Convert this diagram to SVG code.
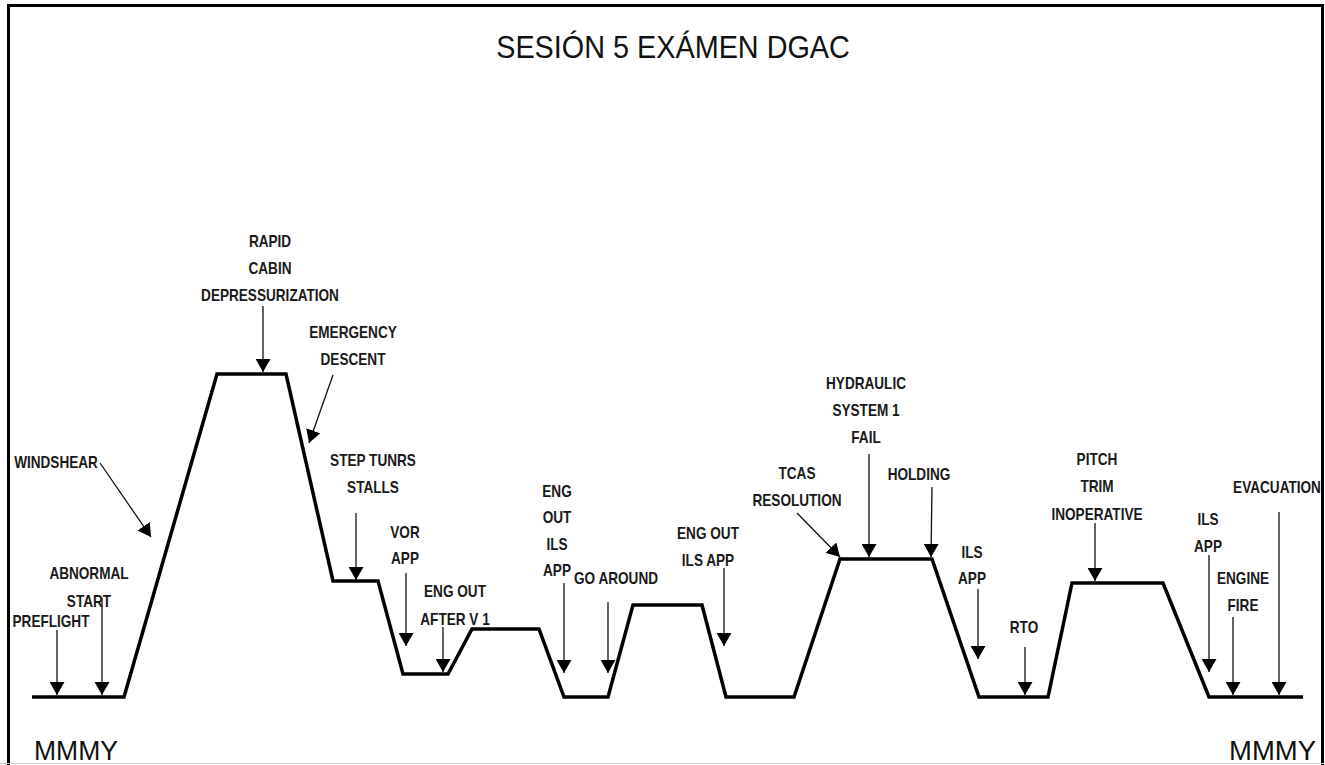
<svg xmlns="http://www.w3.org/2000/svg" width="1325" height="765" viewBox="0 0 1325 765">
<style>
.lbl{font-family:"Liberation Sans",Arial,sans-serif;font-weight:bold;font-size:16px;fill:#1a1a1a;text-anchor:middle}
.big{font-family:"Liberation Sans",Arial,sans-serif;font-size:27px;fill:#111}
.arr{stroke:#111;stroke-width:1.3;fill:none;marker-end:url(#ah)}
.prof{stroke:#000;stroke-width:3.5;fill:none;stroke-linejoin:miter}
</style>
<defs>
<marker id="ah" viewBox="0 0 13 15" refX="13" refY="7.5" markerWidth="13" markerHeight="15" markerUnits="userSpaceOnUse" orient="auto">
<path d="M0,0 L13,7.5 L0,15 z" fill="#000"/>
</marker>
</defs>
<rect width="1325" height="765" fill="#fff"/>
<g id="frame">
<path d="M8.5,770 L8.5,5.5 L1322.5,5.5 L1322.5,770" stroke="#000" stroke-width="3" fill="none"/>
<line x1="0" y1="763.5" x2="1325" y2="763.5" stroke="#d0d0d0" stroke-width="1"/>
</g>
<g id="title"><text transform="translate(673,58) scale(0.9,1)" style="font-family:'Liberation Sans',Arial,sans-serif;font-size:32px;fill:#111;text-anchor:middle">SESIÓN 5 EXÁMEN DGAC</text></g>
<g id="mmmy-left"><text class="big" x="34" y="760" textLength="84" lengthAdjust="spacingAndGlyphs">MMMY</text></g>
<g id="mmmy-right"><text class="big" x="1229" y="760" textLength="87" lengthAdjust="spacingAndGlyphs">MMMY</text></g>
<g id="profile"><path class="prof" d="M32,697 L124,697 L217,374 L286,374 L333,581 L378,581 L403,674 L448,674 L472,629 L539,629 L564,697 L608,697 L633,605 L702,605 L726,697 L794,697 L840,559 L932,559 L979,697 L1048,697 L1072,583 L1163,583 L1209,697 L1303,697"/></g>
<g id="connectors">
<line class="arr" x1="57" y1="630" x2="57" y2="695"/>
<line class="arr" x1="102" y1="598" x2="102" y2="695"/>
<line class="arr" x1="100" y1="463" x2="151" y2="537"/>
<line class="arr" x1="263" y1="306" x2="263" y2="372"/>
<line class="arr" x1="333" y1="375" x2="309" y2="443"/>
<line class="arr" x1="356" y1="513" x2="356" y2="580"/>
<line class="arr" x1="406" y1="573" x2="406" y2="646"/>
<line class="arr" x1="443" y1="627" x2="443" y2="672"/>
<line class="arr" x1="564" y1="583" x2="564" y2="673"/>
<line class="arr" x1="608" y1="602" x2="608" y2="673"/>
<line class="arr" x1="724" y1="568" x2="724" y2="646"/>
<line class="arr" x1="797" y1="513" x2="840" y2="557"/>
<line class="arr" x1="869" y1="454" x2="869" y2="557"/>
<line class="arr" x1="932" y1="487" x2="931" y2="557"/>
<line class="arr" x1="978" y1="589" x2="978" y2="659"/>
<line class="arr" x1="1025" y1="647" x2="1025" y2="695"/>
<line class="arr" x1="1095" y1="523" x2="1095" y2="581"/>
<line class="arr" x1="1209" y1="555" x2="1209" y2="672"/>
<line class="arr" x1="1233" y1="617" x2="1233" y2="695"/>
<line class="arr" x1="1279" y1="512" x2="1279" y2="695"/>
</g>
<g id="n-preflight"><text class="lbl" transform="translate(51,627) scale(0.85,1)">PREFLIGHT</text></g>
<g id="n-abnormal"><text class="lbl" transform="translate(89,579) scale(0.85,1)"><tspan x="0" y="0">ABNORMAL</tspan><tspan x="0" y="28">START</tspan></text></g>
<g id="n-windshear"><text class="lbl" transform="translate(56,468) scale(0.85,1)">WINDSHEAR</text></g>
<g id="n-rapid"><text class="lbl" transform="translate(270,247) scale(0.85,1)"><tspan x="0" y="0">RAPID</tspan><tspan x="0" y="27">CABIN</tspan><tspan x="0" y="54">DEPRESSURIZATION</tspan></text></g>
<g id="n-emergency"><text class="lbl" transform="translate(353,338) scale(0.85,1)"><tspan x="0" y="0">EMERGENCY</tspan><tspan x="0" y="27">DESCENT</tspan></text></g>
<g id="n-step"><text class="lbl" transform="translate(373,466) scale(0.85,1)"><tspan x="0" y="0">STEP TUNRS</tspan><tspan x="0" y="27">STALLS</tspan></text></g>
<g id="n-vor"><text class="lbl" transform="translate(405,538) scale(0.85,1)"><tspan x="0" y="0">VOR</tspan><tspan x="0" y="26">APP</tspan></text></g>
<g id="n-engout-v1"><text class="lbl" transform="translate(455,597) scale(0.85,1)"><tspan x="0" y="0">ENG OUT</tspan><tspan x="0" y="28">AFTER V 1</tspan></text></g>
<g id="n-engout-ils1"><text class="lbl" transform="translate(557,497) scale(0.85,1)"><tspan x="0" y="0">ENG</tspan><tspan x="0" y="26">OUT</tspan><tspan x="0" y="53">ILS</tspan><tspan x="0" y="79">APP</tspan></text></g>
<g id="n-goaround"><text class="lbl" transform="translate(616,584) scale(0.85,1)">GO AROUND</text></g>
<g id="n-engout-ils2"><text class="lbl" transform="translate(708,539) scale(0.85,1)"><tspan x="0" y="0">ENG OUT</tspan><tspan x="0" y="27">ILS APP</tspan></text></g>
<g id="n-tcas"><text class="lbl" transform="translate(797,479) scale(0.85,1)"><tspan x="0" y="0">TCAS</tspan><tspan x="0" y="27">RESOLUTION</tspan></text></g>
<g id="n-hydraulic"><text class="lbl" transform="translate(866,389) scale(0.85,1)"><tspan x="0" y="0">HYDRAULIC</tspan><tspan x="0" y="27">SYSTEM 1</tspan><tspan x="0" y="54">FAIL</tspan></text></g>
<g id="n-holding"><text class="lbl" transform="translate(919,480) scale(0.85,1)">HOLDING</text></g>
<g id="n-ils1"><text class="lbl" transform="translate(972,558) scale(0.85,1)"><tspan x="0" y="0">ILS</tspan><tspan x="0" y="26">APP</tspan></text></g>
<g id="n-rto"><text class="lbl" transform="translate(1024,633) scale(0.85,1)">RTO</text></g>
<g id="n-pitch"><text class="lbl" transform="translate(1097,465) scale(0.85,1)"><tspan x="0" y="0">PITCH</tspan><tspan x="0" y="27">TRIM</tspan><tspan x="0" y="55">INOPERATIVE</tspan></text></g>
<g id="n-ils2"><text class="lbl" transform="translate(1208,525) scale(0.85,1)"><tspan x="0" y="0">ILS</tspan><tspan x="0" y="27">APP</tspan></text></g>
<g id="n-enginefire"><text class="lbl" transform="translate(1243,584) scale(0.85,1)"><tspan x="0" y="0">ENGINE</tspan><tspan x="0" y="27">FIRE</tspan></text></g>
<g id="n-evacuation"><text class="lbl" transform="translate(1277,493) scale(0.85,1)">EVACUATION</text></g>
</svg>
